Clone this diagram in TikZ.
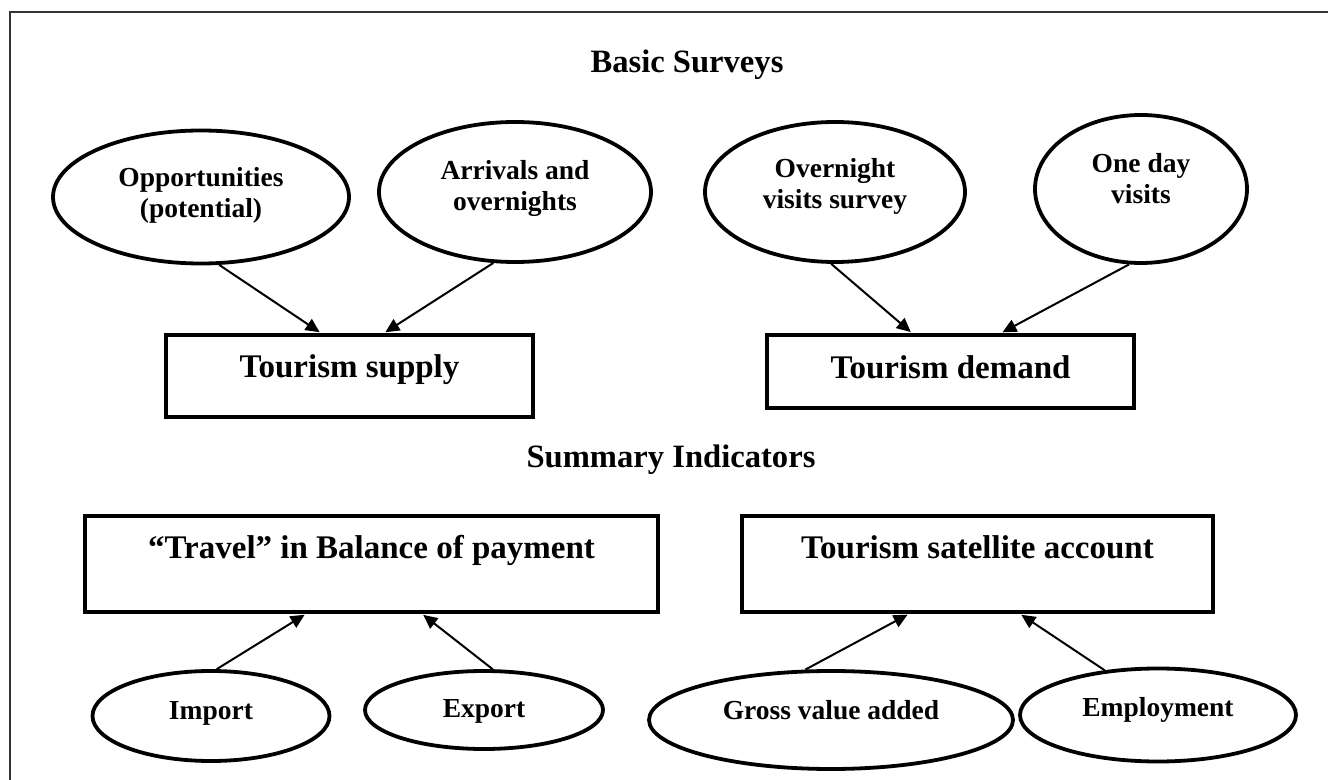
\documentclass[tikz,border=0pt]{standalone}
\usepackage{fontspec}
\setmainfont{Liberation Serif}
\usetikzlibrary{shapes.geometric,arrows.meta}

\begin{document}
\begin{tikzpicture}[x=0.5pt,y=-0.5pt,
    survey/.style={draw,ellipse,line width=1.9pt,inner sep=0pt,align=center,
      font=\fontsize{13.75}{15.5}\selectfont\bfseries},
    lift/.style={text height=9.5pt,text depth=#1},
    twolift/.style={text height=25pt,text depth=#1},
    block/.style={draw,rectangle,line width=1.9pt,text height=11pt,
      font=\fontsize{16.5}{19}\selectfont\bfseries},
    heading/.style={anchor=base,font=\fontsize{16.3}{19}\selectfont\bfseries},
    arw/.style={-{Triangle[length=7pt,width=6.5pt]},line width=1pt,shorten >=0.8pt}]
  \useasboundingbox (0,0) rectangle (1328,780);
  \clip (0,0) rectangle (1328,780);
  \draw[line width=1.1pt,black!80] (1340,12) -- (10,12) -- (10,790);

  \node[heading] (basic) at (687,73) {Basic Surveys};
  \node[heading] (summary) at (671,467) {Summary Indicators};

  % surveys
  \node[survey,twolift=4.7pt,minimum width=148pt,minimum height=66.5pt] (opp) at (201,197) {Opportunities\\(potential)};
  \node[survey,twolift=6.7pt,minimum width=136pt,minimum height=70pt] (arr) at (515,192) {Arrivals and\\overnights};
  \node[survey,twolift=8.7pt,minimum width=130pt,minimum height=70pt] (over) at (835,192) {Overnight\\visits survey};
  \node[survey,twolift=10.7pt,minimum width=106pt,minimum height=74pt] (oneday) at (1141,189) {One day\\visits};

  \node[block,minimum width=183.5pt,minimum height=41pt,text depth=9pt] (supply) at (349.5,376) {Tourism supply};
  \node[block,minimum width=183.5pt,minimum height=36.5pt,text depth=3.5pt] (demand) at (950.5,371.5) {Tourism demand};

  % indicators
  \node[block,minimum width=286.5pt,minimum height=48pt,text depth=16pt] (travel) at (371.5,564) {“Travel” in Balance of payment};
  \node[block,minimum width=235.5pt,minimum height=48pt,text depth=16pt] (tsa) at (977.5,564) {Tourism satellite account};

  \node[survey,lift=6.2pt,minimum width=118.5pt,minimum height=45pt] (imp) at (211,716) {Import};
  \node[survey,lift=2.2pt,minimum width=119pt,minimum height=39pt] (exp) at (484,710) {Export};
  \node[survey,lift=10.2pt,minimum width=182pt,minimum height=49pt] (gva) at (831,720) {Gross value added};
  \node[survey,lift=8.2pt,minimum width=138pt,minimum height=46.5pt] (emp) at (1158,715) {Employment};

  \draw[arw] (opp.-75) -- ([xshift=-14.25pt]supply.north);
  \draw[arw] (arr.-107) -- ([xshift=17.25pt]supply.north);
  \draw[arw] (over.-93) -- ([xshift=-19.25pt]demand.north);
  \draw[arw] (oneday.-99) -- ([xshift=25.25pt]demand.north);
  \draw[arw] (imp.83) -- ([xshift=-32.75pt]travel.south);
  \draw[arw] (exp.78) -- ([xshift=25.25pt]travel.south);
  \draw[arw] (gva.117) -- ([xshift=-34.25pt]tsa.south);
  \draw[arw] (emp.140) -- ([xshift=21.25pt]tsa.south);
\end{tikzpicture}
\end{document}
